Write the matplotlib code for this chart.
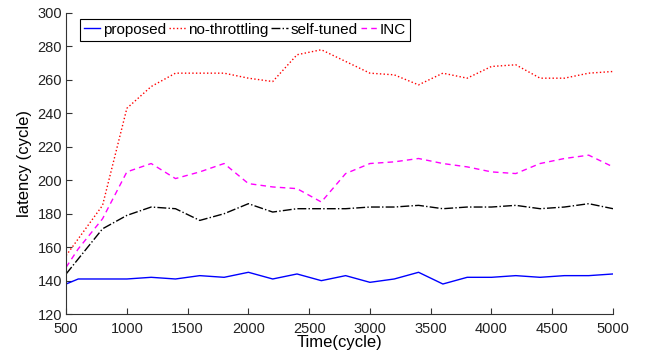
import matplotlib
matplotlib.use("Agg")
import matplotlib.pyplot as plt

plt.rcParams['font.family'] = ['Liberation Sans', 'DejaVu Sans']

time = [500, 600, 800, 1000, 1200, 1400, 1600, 1800, 2000, 2200, 2400, 2600, 2800,
        3000, 3200, 3400, 3600, 3800, 4000, 4200, 4400, 4600, 4800, 5000]
proposed = [138, 141, 141, 141, 142, 141, 143, 142, 145, 141, 144, 140, 143,
            139, 141, 145, 138, 142, 142, 143, 142, 143, 143, 144]
no_throttling = [155, 165, 185, 243, 256, 264, 264, 264, 261, 259, 275, 278, 271,
                 264, 263, 257, 264, 261, 268, 269, 261, 261, 264, 265]
self_tuned = [144, 153, 171, 179, 184, 183, 176, 180, 186, 181, 183, 183, 183,
              184, 184, 185, 183, 184, 184, 185, 183, 184, 186, 183]
inc = [148, 159, 177, 205, 210, 201, 205, 210, 198, 196, 195, 187, 204,
       210, 211, 213, 210, 208, 205, 204, 210, 213, 215, 208]
labels = ['proposed', 'no-throttling', 'self-tuned', 'INC']

fig = plt.figure(figsize=(6.48, 3.59), dpi=100)
ax = fig.add_axes([0.102, 0.125, 0.844, 0.839])

ax.plot(time, proposed, color='#0000ff', linestyle='-', linewidth=1.0, label=labels[0])
ax.plot(time, no_throttling, color='#ff0000', linestyle=':', linewidth=1.0, label=labels[1])
ax.plot(time, self_tuned, color='black', linestyle='-.', linewidth=1.0, label=labels[2])
ax.plot(time, inc, color='#ff00ff', linestyle=(0, (4, 3)), linewidth=1.0, label=labels[3])

ax.set_xlim(500, 5000)
ax.set_ylim(120, 300)
ax.set_xticks(range(500, 5001, 500))
ax.set_yticks(range(120, 301, 20))
ax.spines['top'].set_visible(False)
ax.spines['right'].set_visible(False)
for s in ['left', 'bottom']:
    ax.spines[s].set_color('#333333')
    ax.spines[s].set_linewidth(0.8)
ax.tick_params(direction='in', length=4, colors='#333333', labelsize=10.5,
               labelcolor='#222222')
ax.tick_params(axis='x', pad=6)
ax.tick_params(axis='y', pad=3)

ax.set_xlabel('Time(cycle)', fontsize=12, labelpad=-1)
ax.set_ylabel('latency (cycle)', fontsize=12, labelpad=4)

leg = ax.legend(loc='upper left', ncol=4, fontsize=11, frameon=True, fancybox=False,
                handlelength=1.1, handletextpad=0.15, columnspacing=0.2,
                borderpad=0.25, borderaxespad=0.0, bbox_to_anchor=(0.025, 0.98))
leg.get_frame().set_edgecolor('black')
leg.get_frame().set_linewidth(0.8)
leg.get_frame().set_alpha(1)

fig.savefig('out.png', dpi=100)
